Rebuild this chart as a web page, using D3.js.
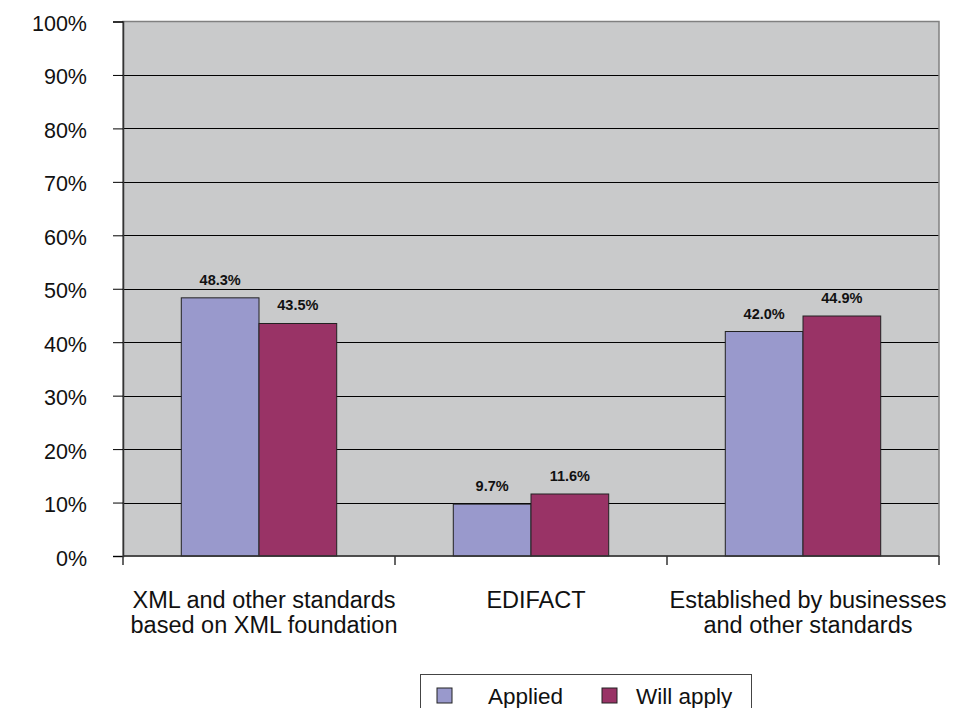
<!DOCTYPE html>
<html><head><meta charset="utf-8">
<script src="https://cdn.jsdelivr.net/npm/d3@7/dist/d3.min.js"></script>
<style>body{margin:0;background:#fff}svg{display:block}text{font-family:"Liberation Sans",Arial,sans-serif}</style>
</head><body>
<svg id="c" width="968" height="708"></svg>
<script>
const categories = [["XML and other standards","based on XML foundation"],["EDIFACT"],["Established by businesses","and other standards"]];
const seriesNames = ["Applied","Will apply"];
const applied = [48.3, 9.7, 42.0];
const willApply = [43.5, 11.6, 44.9];
const yTicks = [0,10,20,30,40,50,60,70,80,90,100];
const colors = ["#9999CC","#993366"];

const svg = d3.select("#c");
const L=123, R=939, T=21.5, B=556;
const x0 = d3.scaleBand().domain(d3.range(categories.length)).range([L,R]);
// gap width 150%: bars = 2w, gap 1.5w
const bw = x0.bandwidth()/3.5;
const y = d3.scaleLinear().domain([0,100]).range([B,T]);

svg.append("rect").attr("x",L).attr("y",T).attr("width",R-L).attr("height",B-T).attr("fill","#C9CACB");
// gridlines
svg.append("g").selectAll("line").data(yTicks.filter(d=>d>0&&d<100)).join("line")
  .attr("x1",L).attr("x2",R).attr("y1",d=>Math.round(y(d))+0.5).attr("y2",d=>Math.round(y(d))+0.5)
  .attr("stroke","#000").attr("stroke-width",1);
// border
svg.append("rect").attr("x",L).attr("y",T).attr("width",R-L).attr("height",B-T).attr("fill","none").attr("stroke","#808080").attr("stroke-width",1.5);

const series=[applied,willApply];
series.forEach((vals,si)=>{
  svg.append("g").selectAll("rect").data(vals).join("rect")
    .attr("x",(d,i)=>x0(i)+0.75*bw+si*bw).attr("y",d=>y(d)).attr("width",bw).attr("height",d=>B-y(d))
    .attr("fill",colors[si]).attr("stroke","#222").attr("stroke-width",1);
  svg.append("g").selectAll("text").data(vals).join("text")
    .attr("x",(d,i)=>x0(i)+0.75*bw+si*bw+bw/2).attr("y",d=>y(d)-13)
    .attr("text-anchor","middle").attr("font-size",14.5).attr("font-weight","bold").attr("fill","#111")
    .text(d=>d.toFixed(1)+"%");
});

// y axis
const yAxis = d3.axisLeft(y).tickValues(yTicks).tickFormat(d=>d+"%").tickSize(10).tickPadding(26);
const ga = svg.append("g").attr("transform",`translate(${L},0)`).call(yAxis);
ga.select(".domain").attr("stroke","#333").attr("stroke-width",1.5);
ga.selectAll(".tick line").attr("stroke","#000");
ga.selectAll(".tick text").attr("font-size",21.5).attr("dy","0.42em").attr("fill","#111").style("font-family","'Liberation Sans',Arial,sans-serif");

// x axis
const xTickPos = d3.range(categories.length+1).map(i=> i<categories.length? x0(i): R);
svg.append("line").attr("x1",L).attr("x2",R).attr("y1",B).attr("y2",B).attr("stroke","#333").attr("stroke-width",1.5);
svg.append("g").selectAll("line").data(xTickPos).join("line")
  .attr("x1",d=>d).attr("x2",d=>d).attr("y1",B).attr("y2",B+9).attr("stroke","#333").attr("stroke-width",1.5);
const cl = svg.append("g").selectAll("text").data(categories).join("text")
  .attr("text-anchor","middle").attr("font-size",23.5).attr("fill","#111");
cl.each(function(lines,i){
  const t=d3.select(this);
  lines.forEach((s,j)=>t.append("tspan").attr("x",x0(i)+x0.bandwidth()/2+5).attr("y",608+j*25).text(s));
});

// legend
const lg = svg.append("g");
lg.append("rect").attr("x",420.5).attr("y",674.5).attr("width",331).attr("height",60).attr("fill","#fff").attr("stroke","#444").attr("stroke-width",1);
const lx=[437,602], tx=[488,636];
seriesNames.forEach((n,i)=>{
  lg.append("rect").attr("x",lx[i]).attr("y",688).attr("width",15).attr("height",15).attr("fill",colors[i]).attr("stroke","#222");
  lg.append("text").attr("x",tx[i]).attr("y",704).attr("font-size",22.5).attr("fill","#111").text(n);
});
</script>
</body></html>
